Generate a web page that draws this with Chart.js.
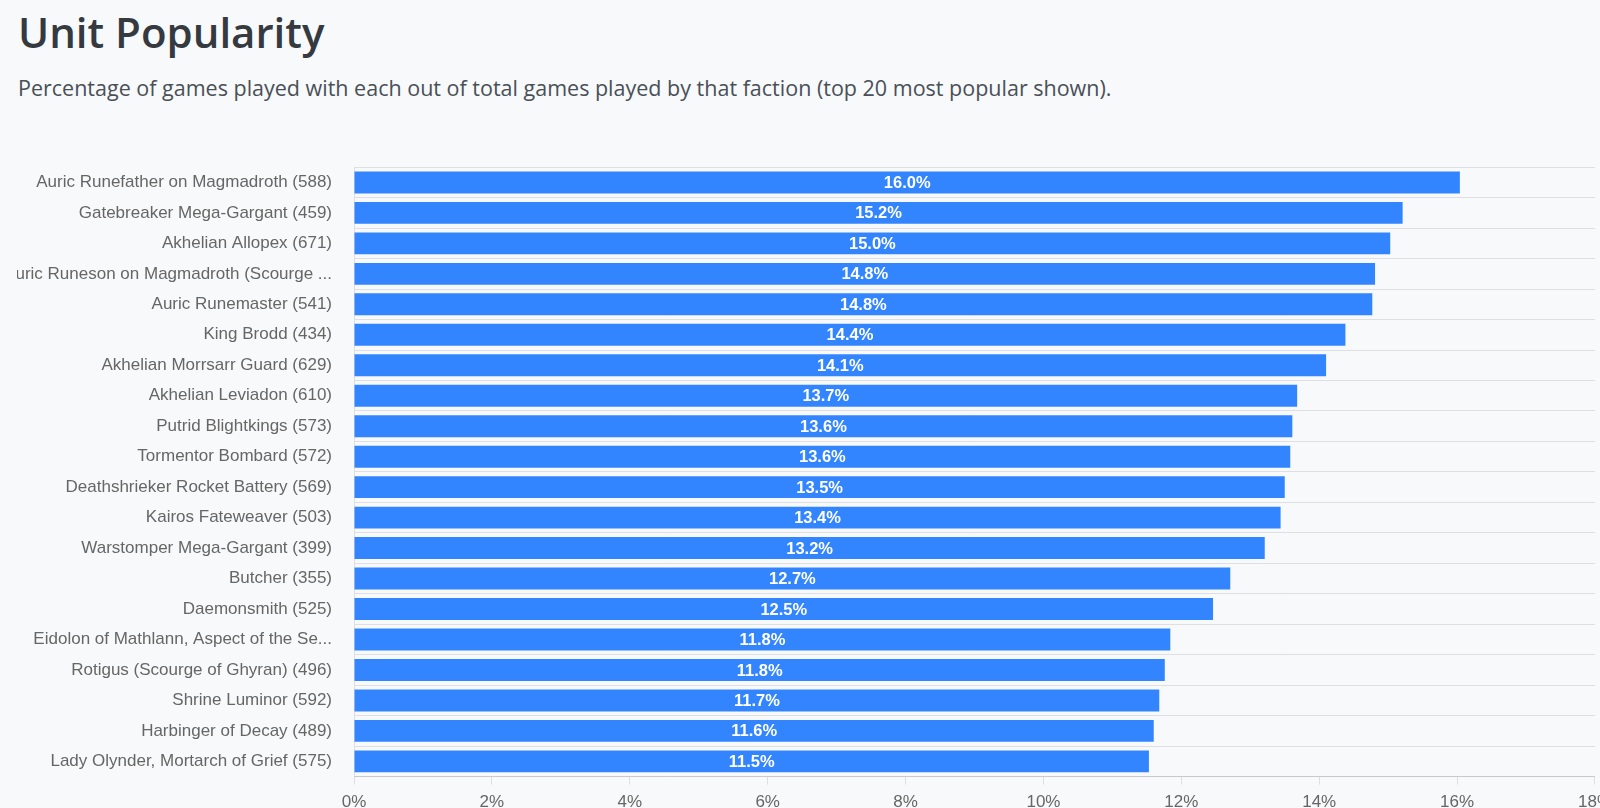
<!DOCTYPE html>
<html>
<head>
<meta charset="utf-8">
<title>Unit Popularity</title>
<script src="https://cdn.jsdelivr.net/npm/chart.js@4/dist/chart.umd.min.js"></script>
<style>
  html,body{margin:0;padding:0;background:#f8f9fa;overflow:hidden;width:1600px;height:808px;}
  h1{position:absolute;left:18px;top:7px;margin:0;font:600 42px/1.2 "Open Sans",sans-serif;color:#343a40;}
  p.sub{position:absolute;left:18px;top:75px;margin:0;font:400 21.5px/1.2 "Open Sans",sans-serif;color:#495057;white-space:nowrap;}
  #wrap{position:absolute;left:17px;top:135px;width:1603px;height:686px;}
</style>
</head>
<body>
<h1>Unit Popularity</h1>
<p class="sub">Percentage of games played with each out of total games played by that faction (top 20 most popular shown).</p>
<div id="wrap"><canvas id="popChart"></canvas></div>
<script>
/* unit names as shown on the axis (two are cut short on the page) */
const units=[
  'Auric Runefather on Magmadroth (588)',
  'Gatebreaker Mega-Gargant (459)',
  'Akhelian Allopex (671)',
  'Auric Runeson on Magmadroth (Scourge ...',
  'Auric Runemaster (541)',
  'King Brodd (434)',
  'Akhelian Morrsarr Guard (629)',
  'Akhelian Leviadon (610)',
  'Putrid Blightkings (573)',
  'Tormentor Bombard (572)',
  'Deathshrieker Rocket Battery (569)',
  'Kairos Fateweaver (503)',
  'Warstomper Mega-Gargant (399)',
  'Butcher (355)',
  'Daemonsmith (525)',
  'Eidolon of Mathlann, Aspect of the Se...',
  'Rotigus (Scourge of Ghyran) (496)',
  'Shrine Luminor (592)',
  'Harbinger of Decay (489)',
  'Lady Olynder, Mortarch of Grief (575)'
];
/* % of faction games that included the unit */
const popularity=[16.04,15.21,15.03,14.81,14.77,14.38,14.10,13.68,13.61,13.58,13.50,13.44,13.21,12.71,12.46,11.84,11.76,11.68,11.60,11.53];
const xMin=0, xMax=18, xStep=2;

const barLabels={
  id:'barLabels',
  afterDatasetsDraw(chart){
    const ctx=chart.ctx;
    const meta=chart.getDatasetMeta(0);
    ctx.save();
    ctx.fillStyle='#ffffff';
    ctx.font='bold 16.5px "Liberation Sans", Arial, sans-serif';
    ctx.textAlign='center';
    ctx.textBaseline='middle';
    meta.data.forEach((bar,i)=>{
      const p=bar.getProps(['x','y','base'],true);
      ctx.fillText(popularity[i].toFixed(1)+'%',(p.x+p.base)/2,p.y+1);
    });
    ctx.restore();
  }
};

const tickFont={family:'"Liberation Sans", Arial, sans-serif',size:17};

new Chart(document.getElementById('popChart'),{
  type:'bar',
  data:{labels:units,datasets:[{data:popularity,backgroundColor:'rgb(50,133,255)',borderWidth:0}]},
  options:{
    indexAxis:'y',
    responsive:true,
    maintainAspectRatio:false,
    animation:false,
    plugins:{legend:{display:false},tooltip:{enabled:false}},
    scales:{
      x:{min:xMin,max:xMax,
        ticks:{stepSize:xStep,color:'#666',font:tickFont,padding:8,callback:v=>v+'%'},
        grid:{drawOnChartArea:false,drawTicks:true,tickLength:8,color:'rgba(0,0,0,0.1)'}},
      y:{
        ticks:{color:'#666',font:tickFont,padding:22,autoSkip:false},
        grid:{drawTicks:false,color:'rgba(0,0,0,0.1)'},
        afterFit(s){ s.width=337; }
      }
    }
  },
  plugins:[barLabels]
});
</script>
</body>
</html>
